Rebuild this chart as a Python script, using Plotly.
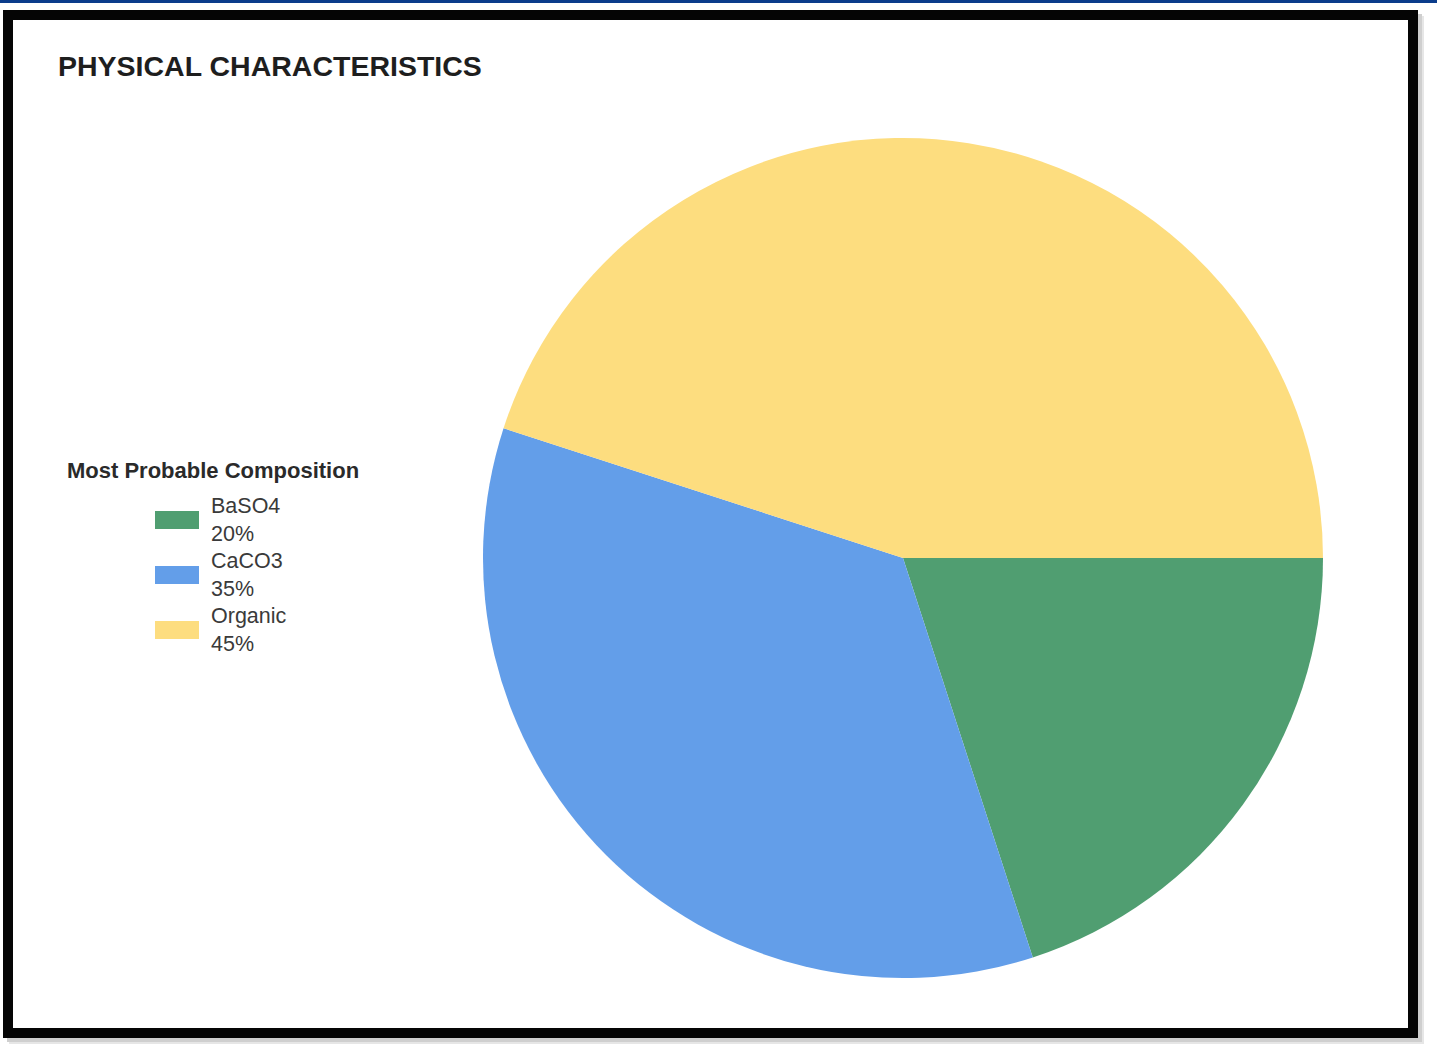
import plotly.graph_objects as go

W, H = 1437, 1053

labels = ["BaSO4", "CaCO3", "Organic"]
values = [20, 35, 45]
colors = ["#509e71", "#639ee9", "#fddd7f"]
title_text = "PHYSICAL CHARACTERISTICS"
legend_title = "Most Probable Composition"


def px(x):
    return x / W


def py(y):
    return 1 - y / H


fig = go.Figure()
fig.add_trace(go.Pie(
    labels=labels,
    values=values,
    marker=dict(colors=colors, line=dict(width=0)),
    sort=False,
    direction="clockwise",
    rotation=90,
    textinfo="none",
    hoverinfo="label+percent",
    showlegend=False,
    domain=dict(x=[px(483), px(1323)], y=[py(978), py(138)]),
))

shapes = []
# top blue band
shapes.append(dict(type="rect", xref="paper", yref="paper", x0=0, x1=1, y0=py(3), y1=1,
                   fillcolor="#0b3c8b", line=dict(width=0), layer="below"))
# soft shadow of frame
for off, col in [(6, "#e6e6e6"), (4, "#cfcfcf")]:
    shapes.append(dict(type="rect", xref="paper", yref="paper",
                       x0=px(3 + off), x1=px(1418 + off), y0=py(1038 + off), y1=py(10 + off),
                       fillcolor=col, line=dict(width=0), layer="below"))
shapes.append(dict(type="rect", xref="paper", yref="paper",
                   x0=px(3), x1=px(1418), y0=py(1038), y1=py(10),
                   fillcolor="white", line=dict(width=0), layer="below"))
# black frame
shapes.append(dict(type="rect", xref="paper", yref="paper",
                   x0=px(8), x1=px(1413), y0=py(1033), y1=py(15),
                   fillcolor="rgba(0,0,0,0)", line=dict(color="#050505", width=10), layer="above"))

annotations = [
    dict(text="<b>" + title_text + "</b>", xref="paper", yref="paper",
         x=px(56), y=py(66), xanchor="left", yanchor="middle", showarrow=False,
         font=dict(family="Liberation Sans, Arial", size=28.5, color="#1e1e1e")),
    dict(text="<b>" + legend_title + "</b>", xref="paper", yref="paper",
         x=px(65), y=py(470), xanchor="left", yanchor="middle", showarrow=False,
         font=dict(family="Liberation Sans, Arial", size=22, color="#2a2a2a")),
]

total = sum(values)
for i, (lab, val, col) in enumerate(zip(labels, values, colors)):
    cy = 520 + i * 55
    shapes.append(dict(type="rect", xref="paper", yref="paper",
                       x0=px(155), x1=px(199), y0=py(cy + 9), y1=py(cy - 9),
                       fillcolor=col, line=dict(width=0)))
    annotations.append(dict(
        text=f"{lab}<br>{round(val / total * 100)}%", xref="paper", yref="paper",
        x=px(209), y=py(cy), xanchor="left", yanchor="middle", align="left",
        showarrow=False,
        font=dict(family="Liberation Sans, Arial", size=21.5, color="#3a3a3a")))

fig.update_layout(
    width=W, height=H,
    margin=dict(l=0, r=0, t=0, b=0),
    paper_bgcolor="white",
    plot_bgcolor="white",
    shapes=shapes,
    annotations=annotations,
)

fig.write_html("out.html")
